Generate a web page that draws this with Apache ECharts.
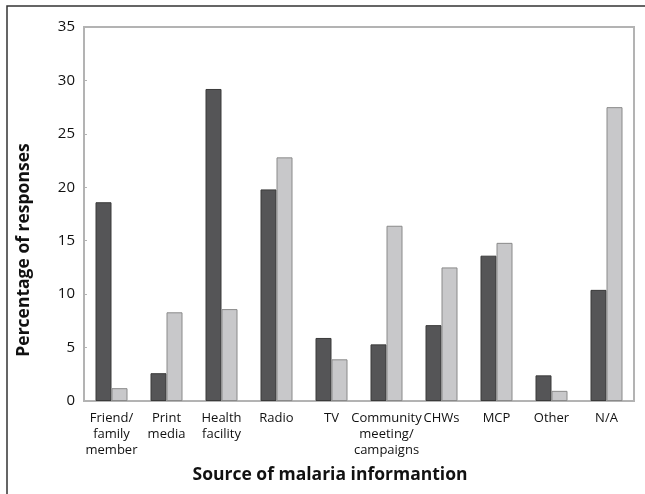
<!DOCTYPE html>
<html>
<head>
<meta charset="utf-8">
<style>
	html, body { margin: 0; padding: 0; background: #fff; }
	#main { width: 645px; height: 494px; }
</style>
<script src="https://cdn.jsdelivr.net/npm/echarts@6/dist/echarts.min.js"></script>
</head>
<body>
<div id="main"></div>
<script>
// categories on the x axis
var categories = ['Friend/\nfamily\nmember', 'Print\nmedia', 'Health\nfacility', 'Radio', 'TV',
	'Community\nmeeting/\ncampaigns', 'CHWs', 'MCP', 'Other', 'N/A'];
// dark bars
var darkValues = [18.6, 2.6, 29.2, 19.8, 5.9, 5.3, 7.1, 13.6, 2.4, 10.4];
// light bars
var lightValues = [1.2, 8.3, 8.6, 22.8, 3.9, 16.4, 12.5, 14.8, 0.95, 27.5];

var xTitle = 'Source of malaria informantion';
var yTitle = 'Percentage of responses';

var font = '"Open Sans", sans-serif';

var myChart = echarts.init(document.getElementById('main'));

var option = {
	backgroundColor: '#fff',
	animation: false,
	graphic: [
		{
			type: 'polyline',
			shape: { points: [[7, 520], [7, 6], [660, 6]] },
			style: { stroke: '#333', lineWidth: 1.5, fill: null }
		},
		// axis titles sit centred on the whole figure, not on the plot
		{
			type: 'text',
			x: 330,
			y: 475,
			style: {
				text: xTitle,
				fill: '#111',
				font: 'bold 17.5px "Open Sans", sans-serif',
				textAlign: 'center',
				textVerticalAlign: 'middle'
			}
		},
		{
			type: 'text',
			x: 24,
			y: 250,
			rotation: Math.PI / 2,
			style: {
				text: yTitle,
				fill: '#111',
				font: 'bold 17.5px "Open Sans", sans-serif',
				textAlign: 'center',
				textVerticalAlign: 'middle'
			}
		}
	],
	grid: {
		left: 84,
		right: 11,
		top: 27,
		bottom: 93,
		show: true,
		borderColor: '#b3b3b3',
		borderWidth: 2
	},
	xAxis: {
		type: 'category',
		data: categories,
		axisLine: { show: false },
		axisTick: { show: false },
		axisLabel: {
			color: '#111',
			fontFamily: font,
			fontSize: 13,
			lineHeight: 16,
			margin: 9,
			interval: 0
		}
	},
	yAxis: {
		type: 'value',
		min: 0,
		max: 35,
		interval: 5,
		splitLine: { show: false },
		axisLine: { show: false },
		axisTick: {
			show: true,
			inside: true,
			length: 3,
			lineStyle: { color: '#b3b3b3' }
		},
		axisLabel: {
			color: '#111',
			fontFamily: font,
			fontSize: 15,
			margin: 9
		}
	},
	series: [
		{
			type: 'bar',
			data: darkValues,
			barWidth: 16,
			barGap: '0%',
			itemStyle: {
				color: '#555557',
				borderColor: '#3a3a3a',
				borderWidth: 1
			}
		},
		{
			type: 'bar',
			data: lightValues,
			barWidth: 16,
			itemStyle: {
				color: '#c8c8ca',
				borderColor: '#8a8a8a',
				borderWidth: 1
			}
		}
	]
};

myChart.setOption(option);
</script>
</body>
</html>
